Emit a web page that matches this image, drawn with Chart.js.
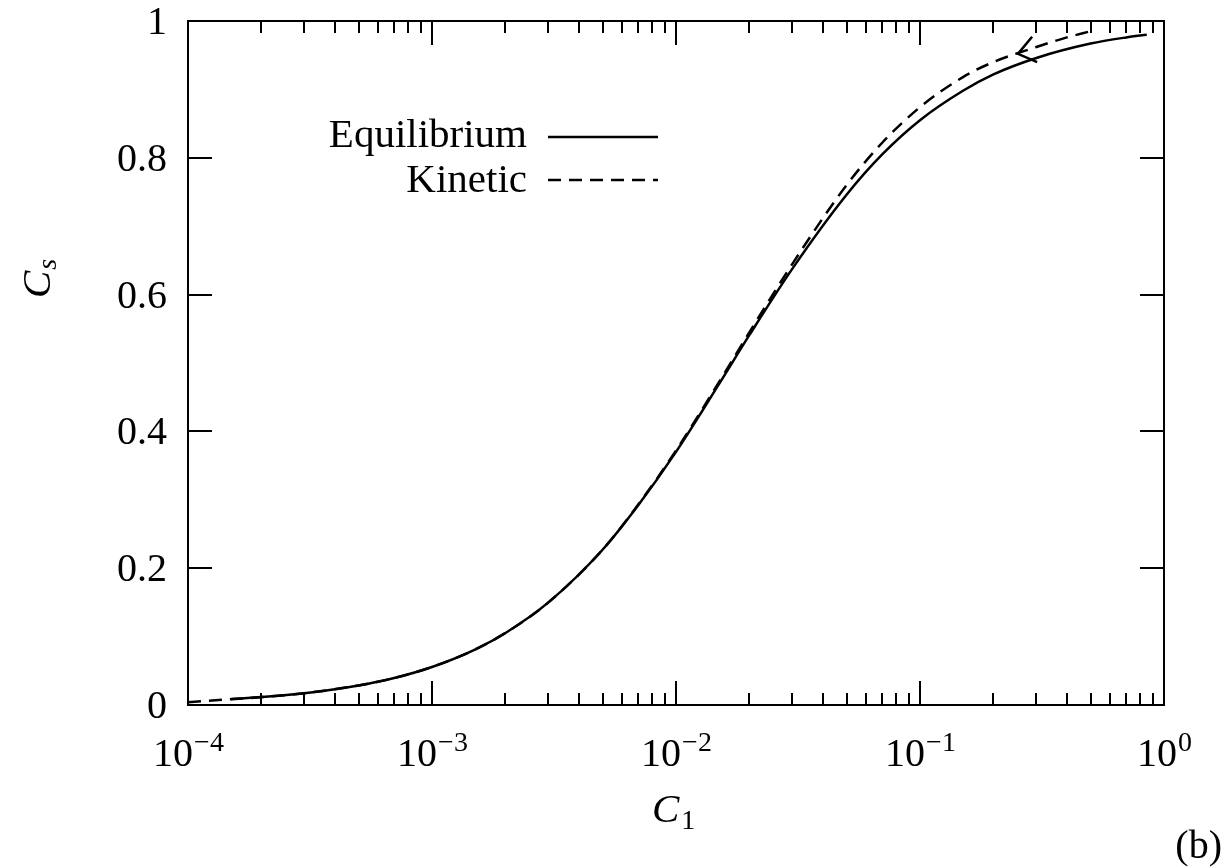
<!DOCTYPE html>
<html lang="en">
<head>
  <meta charset="UTF-8">
  <title>Cs against C1</title>
  <script src="https://cdn.jsdelivr.net/npm/chart.js"></script>
  <style>
    html, body { margin: 0; padding: 0; background: #fff; }
    canvas { display: block; }
  </style>
</head>
<body>
  <canvas id="chart" width="1226" height="867"></canvas>

  <script>
    // values
    const equilibriumC1 = [1.5e-4, 2e-4, 3e-4, 5e-4, 7e-4, 1e-3, 1.5e-3, 2e-3, 3e-3, 5e-3, 7e-3,
      1e-2, 1.5e-2, 2e-2, 3e-2, 5e-2, 7e-2, 0.1, 0.15, 0.2, 0.3, 0.5, 0.7, 0.85];
    const equilibriumCs = [0.0087, 0.0116, 0.0173, 0.0286, 0.0395, 0.0556, 0.0811, 0.1053, 0.150, 0.227, 0.292,
      0.370, 0.469, 0.541, 0.638, 0.746, 0.805, 0.855, 0.898, 0.922, 0.946, 0.967, 0.976, 0.980];

    const kineticC1 = [1e-4, 1.5e-4, 2e-4, 3e-4, 5e-4, 7e-4, 1e-3, 1.5e-3, 2e-3, 3e-3, 5e-3, 7e-3,
      1e-2, 1.5e-2, 2e-2, 3e-2, 5e-2, 7e-2, 0.1, 0.15, 0.2, 0.3, 0.4, 0.5];
    const kineticCs = [0.004, 0.0085, 0.0115, 0.0173, 0.0286, 0.0395, 0.0556, 0.0811, 0.1053, 0.150, 0.227, 0.293,
      0.372, 0.472, 0.545, 0.645, 0.760, 0.822, 0.874, 0.918, 0.940, 0.962, 0.976, 0.985];

    // little arrow head on the kinetic curve
    const arrowC1 = [0.288, 0.252, 0.302];
    const arrowCs = [0.977, 0.952, 0.940];

    const xTickExponents = [-4, -3, -2, -1, 0];
    const yTicks = [0, 0.2, 0.4, 0.6, 0.8, 1];
    const yTickLabels = ['0', '0.2', '0.4', '0.6', '0.8', '1'];
    const seriesNames = ['Equilibrium', 'Kinetic'];

    const SERIF = '"Liberation Serif", "DejaVu Serif", serif';
    const kineticDash = [13, 8];

    function toPoints(xs, ys) {
      return xs.map((x, i) => ({ x: x, y: ys[i] }));
    }

    // frame, inward ticks, labels and key, drawn the gnuplot way
    const decorations = {
      id: 'decorations',
      afterDraw(chart) {
        const ctx = chart.ctx;
        const a = chart.chartArea;
        const xs = chart.scales.x;
        const ys = chart.scales.y;
        const major = 24, minor = 12;

        ctx.save();
        ctx.strokeStyle = '#000';
        ctx.fillStyle = '#000';
        ctx.lineWidth = 2;
        ctx.strokeRect(a.left, a.top, a.right - a.left, a.bottom - a.top);

        // x ticks, top and bottom
        ctx.beginPath();
        xTickExponents.forEach(e => {
          const px = Math.round(xs.getPixelForValue(Math.pow(10, e)));
          ctx.moveTo(px, a.bottom); ctx.lineTo(px, a.bottom - major);
          ctx.moveTo(px, a.top); ctx.lineTo(px, a.top + major);
          if (e < 0) {
            for (let m = 2; m <= 9; m++) {
              const mx = Math.round(xs.getPixelForValue(m * Math.pow(10, e)));
              ctx.moveTo(mx, a.bottom); ctx.lineTo(mx, a.bottom - minor);
              ctx.moveTo(mx, a.top); ctx.lineTo(mx, a.top + minor);
            }
          }
        });
        // y ticks, left and right
        yTicks.forEach(v => {
          const py = Math.round(ys.getPixelForValue(v));
          ctx.moveTo(a.left, py); ctx.lineTo(a.left + major, py);
          ctx.moveTo(a.right, py); ctx.lineTo(a.right - major, py);
        });
        ctx.stroke();

        // x tick labels 10^n
        xTickExponents.forEach(e => {
          const px = xs.getPixelForValue(Math.pow(10, e));
          const sup = e < 0 ? '\u2212' + Math.abs(e) : String(e);
          ctx.font = '40px ' + SERIF;
          const wBase = ctx.measureText('10').width;
          ctx.font = '28px ' + SERIF;
          const wSup = ctx.measureText(sup).width;
          const x0 = px - (wBase + wSup) / 2;
          ctx.textAlign = 'left';
          ctx.textBaseline = 'alphabetic';
          ctx.font = '40px ' + SERIF;
          ctx.fillText('10', x0, 766);
          ctx.font = '28px ' + SERIF;
          ctx.fillText(sup, x0 + wBase + 1, 751);
        });

        // y tick labels
        ctx.font = '40px ' + SERIF;
        ctx.textAlign = 'right';
        yTicks.forEach((v, i) => {
          const py = ys.getPixelForValue(v);
          ctx.fillText(yTickLabels[i], 167, py + 13);
        });

        // axis titles
        ctx.textAlign = 'left';
        ctx.font = 'italic 41px ' + SERIF;
        ctx.fillText('C', 652, 822);
        const wC = ctx.measureText('C').width;
        ctx.font = '28px ' + SERIF;
        ctx.fillText('1', 652 + wC + 2, 829);

        ctx.save();
        ctx.translate(50, 298);
        ctx.rotate(-Math.PI / 2);
        ctx.font = 'italic 41px ' + SERIF;
        ctx.fillText('C', 0, 0);
        ctx.font = 'italic 28px ' + SERIF;
        ctx.fillText('s', wC + 1, 6);
        ctx.restore();

        // panel tag
        ctx.font = '40px ' + SERIF;
        ctx.textAlign = 'right';
        ctx.fillText('(b)', 1222, 858);

        // key
        const keyY = [137, 180];
        const keyBase = [147, 192];
        seriesNames.forEach((name, i) => {
          ctx.font = '41px ' + SERIF;
          ctx.textAlign = 'right';
          ctx.fillText(name, 527, keyBase[i]);
          ctx.beginPath();
          ctx.lineWidth = 2.5;
          ctx.setLineDash(i === 1 ? kineticDash : []);
          ctx.moveTo(548, keyY[i]);
          ctx.lineTo(658, keyY[i]);
          ctx.stroke();
        });
        ctx.setLineDash([]);
        ctx.restore();
      }
    };

    const ctx = document.getElementById('chart').getContext('2d');
    new Chart(ctx, {
      type: 'line',
      data: {
        datasets: [
          {
            label: seriesNames[0],
            data: toPoints(equilibriumC1, equilibriumCs),
            borderColor: '#000',
            borderWidth: 2.5,
            pointRadius: 0,
            cubicInterpolationMode: 'monotone',
            fill: false
          },
          {
            label: seriesNames[1],
            data: toPoints(kineticC1, kineticCs),
            borderColor: '#000',
            borderWidth: 2.5,
            borderDash: kineticDash,
            pointRadius: 0,
            cubicInterpolationMode: 'monotone',
            fill: false
          },
          {
            label: 'arrow',
            data: toPoints(arrowC1, arrowCs),
            borderColor: '#000',
            borderWidth: 2.5,
            pointRadius: 0,
            tension: 0,
            fill: false
          }
        ]
      },
      options: {
        responsive: false,
        animation: false,
        events: [],
        devicePixelRatio: 1,
        layout: { padding: { left: 188, right: 62, top: 21, bottom: 162 } },
        scales: {
          x: { type: 'logarithmic', min: 1e-4, max: 1, display: false },
          y: { type: 'linear', min: 0, max: 1, display: false }
        },
        plugins: {
          legend: { display: false },
          tooltip: { enabled: false }
        }
      },
      plugins: [decorations]
    });
  </script>
</body>
</html>
